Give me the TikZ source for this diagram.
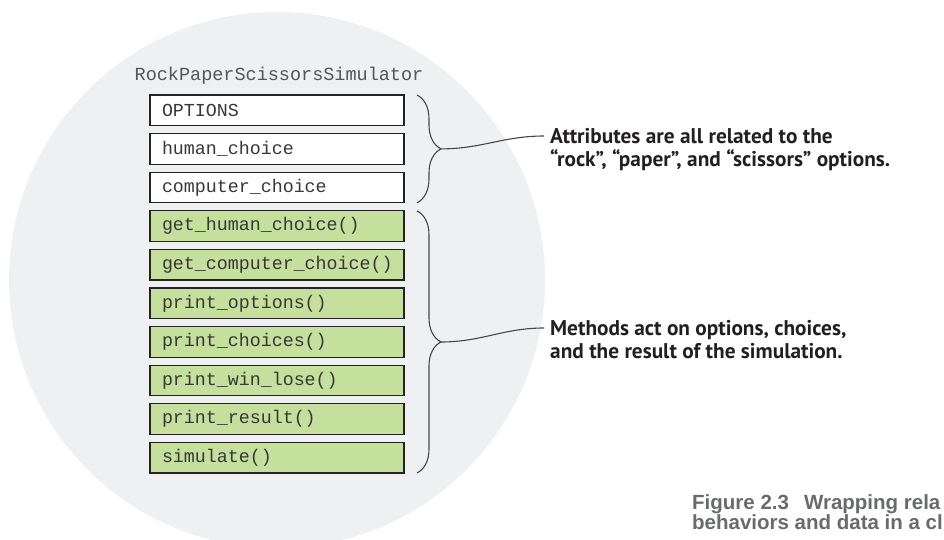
\documentclass[tikz,border=0pt]{standalone}
\usepackage{fontspec}
\setmonofont{Liberation Mono}
\newfontfamily\notefont{PT Sans}
\newfontfamily\captionfont{Liberation Sans}
\usetikzlibrary{positioning,decorations.pathreplacing}
\definecolor{bggrey}{RGB}{239,240,242}
\definecolor{methodgreen}{RGB}{197,223,157}
\definecolor{boxline}{RGB}{35,35,35}
\definecolor{boxtext}{RGB}{55,55,55}
\definecolor{bracegrey}{RGB}{70,70,72}
\definecolor{notetext}{RGB}{35,31,32}
\definecolor{captiongrey}{RGB}{105,106,110}

\begin{document}
\begin{tikzpicture}[x=1pt,y=-1pt,
    field/.style={draw=boxline,line width=1.2pt,text=boxtext,
        minimum height=30.5pt,text width=230pt,inner xsep=12pt,inner ysep=0pt,
        align=left,font=\ttfamily\fontsize{18.3}{20}\selectfont},
    bracket/.style={draw=bracegrey,line width=1.1pt,
        decorate,decoration={brace,amplitude=24pt}},
    note/.style={align=left,inner sep=0pt,text=notetext,
        font=\notefont\bfseries\fontsize{21.3}{23}\selectfont}]
\useasboundingbox (0,0) rectangle (944,540);
\begin{scope}
\clip (0,0) rectangle (944,540);
\fill[bggrey] (277,280) circle[radius=268pt];

\node[text=boxtext!85,font=\ttfamily\fontsize{18.5}{20}\selectfont] (title) at (279,76) {RockPaperScissorsSimulator};

% attributes
\begin{scope}[every node/.style={field,fill=white}]
    \node (options) at (277,110.3) {OPTIONS};
    \node (human) at (277,148.9) {human\_choice};
    \node (computer) at (277,187.5) {computer\_choice};
\end{scope}

% methods
\begin{scope}[every node/.style={field,fill=methodgreen}]
    \node (gethuman) at (277,226.1) {get\_human\_choice()};
    \node (getcomputer) at (277,264.7) {get\_computer\_choice()};
    \node (printopt) at (277,303.3) {print\_options()};
    \node (printchoice) at (277,341.9) {print\_choices()};
    \node (printwin) at (277,380.5) {print\_win\_lose()};
    \node (printres) at (277,419.1) {print\_result()};
    \node (simulate) at (277,457.7) {simulate()};
\end{scope}

\draw[bracket] (417,95) -- (417,202.8);
\draw[bracket] (417,210.9) -- (417,473);
\coordinate (attrtip) at (441,148.9);
\coordinate (methtip) at (441,342);

\node[note,anchor=north west] (attrnote) at (550,128) {Attributes are all related to the\\“rock”, “paper”, and “scissors” options.};
\node[note,anchor=north west] (methnote) at (550,320) {Methods act on options, choices,\\and the result of the simulation.};
\coordinate (attrend) at (544,136);
\coordinate (methend) at (544,328);

\draw[bracegrey,line width=1.1pt] (attrtip) to[out=0,in=180] (attrend);
\draw[bracegrey,line width=1.1pt] (methtip) to[out=0,in=180] (methend);

\node[anchor=north west,align=left,inner sep=0pt,text=captiongrey,
    font=\captionfont\bfseries\fontsize{20.5}{20.5}\selectfont] (caption) at (692,494)
    {Figure 2.3\hspace{15pt}Wrapping rela\\behaviors and data in a cl};
\end{scope}
\end{tikzpicture}
\end{document}
